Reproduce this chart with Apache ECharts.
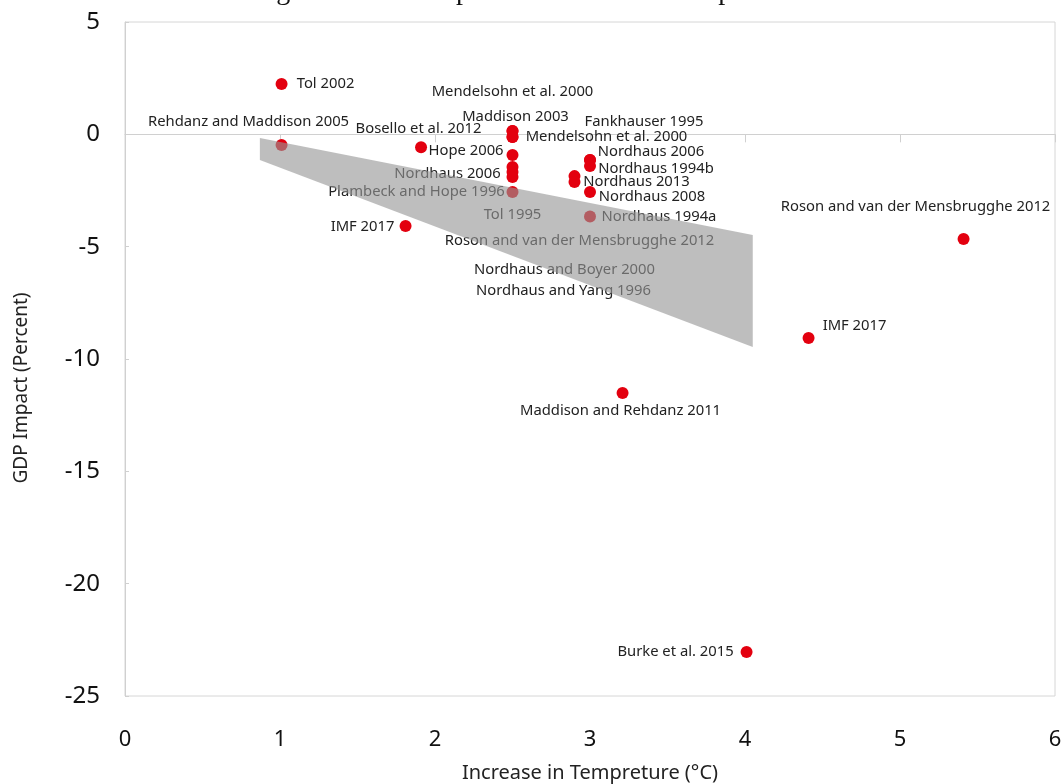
<!DOCTYPE html>
<html>
<head>
<meta charset="utf-8">
<script src="https://cdn.jsdelivr.net/npm/echarts@6/dist/echarts.min.js"></script>
<style>
html,body{margin:0;padding:0;background:#fff;}
#chart{width:1063px;height:784px;}
</style>
</head>
<body>
<div id="chart"></div>
<script>
// ---- data ----
const studies = [
  "Tol 2002", "Rehdanz and Maddison 2005", "Hope 2006", "IMF 2017",
  "Mendelsohn et al. 2000", "Maddison 2003", "Bosello et al. 2012", "Mendelsohn et al. 2000",
  "Tol 1995", "Nordhaus and Boyer 2000", "Nordhaus 2006", "Nordhaus and Yang 1996",
  "Plambeck and Hope 1996", "Roson and van der Mensbrugghe 2012", "Nordhaus 2013",
  "Fankhauser 1995", "Nordhaus 2006", "Nordhaus 1994b", "Nordhaus 2008", "Nordhaus 1994a",
  "Roson and van der Mensbrugghe 2012", "IMF 2017", "Maddison and Rehdanz 2011", "Burke et al. 2015"
];
const tempIncrease = [
  1.01, 1.01, 1.91, 1.81,
  2.5, 2.5, 2.5, 2.5,
  2.5, 2.5, 2.5, 2.5,
  2.5, 2.9, 2.9,
  3.0, 3.0, 3.0, 3.0, 3.0,
  5.41, 4.41, 3.21, 4.01
];
const gdpImpact = [
  2.24, -0.48, -0.57, -4.08,
  0.15, 0.15, -0.12, -0.12,
  -0.92, -1.45, -1.68, -1.9,
  -2.57, -1.86, -2.12,
  -1.14, -1.14, -1.41, -2.57, -3.66,
  -4.66, -9.07, -11.51, -23.04
];
// shaded band (range of estimates)
const bandX = [0.87, 4.05];
const bandUpper = [-0.16, -4.48];
const bandLower = [-1.14, -9.47];
// axis ticks
const xTicks = [0, 1, 2, 3, 4, 5, 6];
const yTicks = [5, 0, -5, -10, -15, -20, -25];

// ---- label placement (style, px offsets of label centre from the dot) ----
const labelOffsets = [
  [44,0],[-33,-23],[45,4],[-43,1],
  [0,-39],[3,-14],[-94,-8],[94,0],
  [0,60],[52,103],[-65,2],[51,114],
  [-96,0],[5,65],[62,0],
  [54,-38],[61,-8],[66,3],[62,5],[69,0],
  [-48,-32],[46,-12],[-2,18],[-71,0]
];

const scatterData = studies.map((name, i) => ({
  name: name,
  value: [tempIncrease[i], gdpImpact[i]]
}));

const chart = echarts.init(document.getElementById('chart'), null, {renderer: 'canvas'});
const font = '"Noto Sans", "Open Sans", sans-serif';

chart.setOption({
  animation: false,
  backgroundColor: '#fff',
  graphic: [{
    type: 'text',
    left: 'center',
    top: -22,
    style: {
      text: 'Figure 3: GDP Impact in Relation to Temperature',
      font: '28px "Liberation Serif", "DejaVu Serif", serif',
      fill: '#111'
    }
  }, {
    type: 'text',
    x: 22,
    y: 388,
    rotation: Math.PI / 2,
    style: {
      text: 'GDP Impact (Percent)',
      font: '19px "Noto Sans", sans-serif',
      fill: '#222',
      align: 'center',
      verticalAlign: 'middle'
    }
  }],
  grid: {
    left: 125, right: 8, top: 22, bottom: 88,
    outerBoundsMode: 'none',
    containLabel: false,
    show: true, borderColor: '#d6d6d6', borderWidth: 1, backgroundColor: 'transparent'
  },
  xAxis: [{
    type: 'value', min: xTicks[0], max: xTicks[xTicks.length - 1], interval: 1,
    position: 'bottom',
    name: 'Increase in Tempreture (°C)',
    nameLocation: 'middle', nameGap: 67,
    nameTextStyle: { fontFamily: font, fontSize: 20, color: '#222' },
    axisLine: { show: false, onZero: false },
    axisTick: { show: false },
    splitLine: { show: false },
    axisLabel: { margin: 33, fontFamily: font, fontSize: 22, color: '#111' }
  }, {
    type: 'value', min: xTicks[0], max: xTicks[xTicks.length - 1], interval: 1,
    axisLine: { show: true, onZero: true, lineStyle: { color: '#d0d0d0', width: 1 } },
    axisTick: { show: true, inside: true, length: 8, lineStyle: { color: '#d0d0d0' } },
    axisLabel: { show: false },
    splitLine: { show: false }
  }],
  yAxis: {
    type: 'value', min: yTicks[yTicks.length - 1], max: yTicks[0], interval: 5,
    axisLine: { show: true, lineStyle: { color: '#d0d0d0' } },
    axisTick: { show: true, inside: true, length: 4, lineStyle: { color: '#d0d0d0' } },
    splitLine: { show: false },
    axisLabel: { margin: 25, fontFamily: font, fontSize: 24, color: '#111' }
  },
  series: [{
    type: 'scatter',
    z: 2,
    symbol: 'circle',
    symbolSize: 12,
    itemStyle: { color: '#e3000f', opacity: 1 },
    label: {
      show: true,
      position: 'inside',
      formatter: p => p.name,
      fontFamily: font,
      fontSize: 14.8,
      color: '#222',
      align: 'center',
      verticalAlign: 'middle'
    },
    labelLayout: function (params) {
      const o = labelOffsets[params.dataIndex];
      return { dx: o[0], dy: o[1], hideOverlap: false };
    },
    data: scatterData
  }, {
    type: 'custom',
    z: 5,
    silent: true,
    data: [[bandX[0], bandUpper[0]]],
    renderItem: function (params, api) {
      const pts = [];
      for (let i = 0; i < bandX.length; i++) pts.push(api.coord([bandX[i], bandUpper[i]]));
      for (let i = bandX.length - 1; i >= 0; i--) pts.push(api.coord([bandX[i], bandLower[i]]));
      return {
        type: 'polygon',
        shape: { points: pts },
        style: { fill: 'rgba(150,150,150,0.62)', stroke: null }
      };
    }
  }]
});
</script>
</body>
</html>
